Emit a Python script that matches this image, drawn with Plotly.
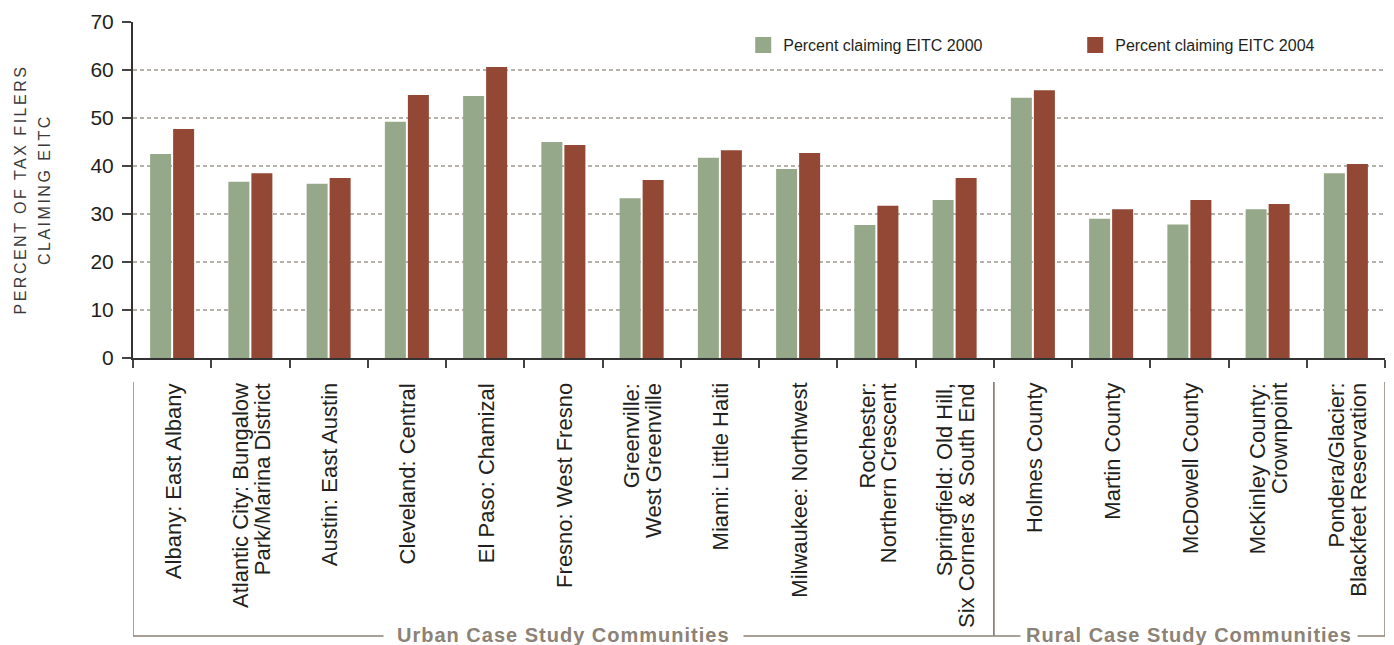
import plotly.graph_objects as go

# Communities (line breaks mark how each axis label wraps)
communities = [
    "Albany: East Albany",
    "Atlantic City: Bungalow<br>Park/Marina District",
    "Austin: East Austin",
    "Cleveland: Central",
    "El Paso: Chamizal",
    "Fresno: West Fresno",
    "Greenville:<br>West Greenville",
    "Miami: Little Haiti",
    "Milwaukee: Northwest",
    "Rochester:<br>Northern Crescent",
    "Springfield: Old Hill,<br>Six Corners & South End",
    "Holmes County",
    "Martin County",
    "McDowell County",
    "McKinley County:<br>Crownpoint",
    "Pondera/Glacier:<br>Blackfeet Reservation",
]

# Percent of tax filers claiming the EITC
pct_2000 = [42.5, 36.7, 36.3, 49.2, 54.6, 45.0, 33.3, 41.7, 39.4, 27.7, 32.9, 54.2, 29.0, 27.8, 31.0, 38.5]
pct_2004 = [47.7, 38.5, 37.5, 54.8, 60.6, 44.4, 37.1, 43.3, 42.7, 31.7, 37.5, 55.8, 31.0, 32.9, 32.1, 40.4]

series_names = ["Percent claiming EITC 2000", "Percent claiming EITC 2004"]
series_colors = ["#96a88a", "#924834"]

# Community groups and how many communities each one spans
group_names = ["Urban Case Study Communities", "Rural Case Study Communities"]
group_sizes = [11, 5]

y_ticks = [0, 10, 20, 30, 40, 50, 60, 70]
grid_values = [10, 20, 30, 40, 50, 60]

FONT = "Liberation Sans, Arial, Helvetica, sans-serif"
PLOT_H = 336  # plot area height in px (used for paper offsets below the axis)

fig = go.Figure()
for name, vals, col in zip(series_names, [pct_2000, pct_2004], series_colors):
    # bars carry the data; a marker-only twin supplies a larger square legend key
    fig.add_trace(go.Bar(x=communities, y=vals, name=name, legendgroup=name, showlegend=False,
                         marker=dict(color=col, line=dict(width=0))))
    fig.add_trace(go.Scatter(x=[None], y=[None], mode="markers", name=name, legendgroup=name,
                             marker=dict(symbol="square", size=17, color=col, line=dict(width=0))))

shapes = []
# dashed horizontal grid
for g in grid_values:
    shapes.append(dict(type="line", xref="paper", yref="y", x0=0, x1=1, y0=g, y1=g,
                       line=dict(color="#9e988f", width=1.5, dash="4px,3px"), layer="below"))

annotations = []

# group brackets under the category labels
BR_COLOR = "#8c8275"
top_px, bottom_px = 24, 278
y_top = -top_px / PLOT_H
y_bot = -bottom_px / PLOT_H
start = 0
pads = [13, 5]
for gname, size, pad in zip(group_names, group_sizes, pads):
    x0, x1 = start - 0.5, start + size - 0.5
    for xv in (x0, x1):
        shapes.append(dict(type="line", xref="x", yref="paper", x0=xv, x1=xv, y0=y_top, y1=y_bot,
                           line=dict(color=BR_COLOR, width=1.5)))
    shapes.append(dict(type="line", xref="x", yref="paper", x0=x0, x1=x1, y0=y_bot, y1=y_bot,
                       line=dict(color=BR_COLOR, width=1.5)))
    annotations.append(dict(x=(x0 + x1) / 2, y=y_bot, xref="x", yref="paper",
                            text=f"<span style='letter-spacing:1px'>{gname}</span>",
                            showarrow=False, xanchor="center", yanchor="middle", bgcolor="white",
                            borderpad=pad, yshift=1,
                            font=dict(family=FONT, size=20, color=BR_COLOR, weight="bold")))
    start += size

# rotated category labels, each line placed separately to keep tight leading
LINE_STEP = 21.7
for i, label in enumerate(communities):
    lines = label.split("<br>")
    n = len(lines)
    for j, ln in enumerate(lines):
        offset = (j - (n - 1) / 2) * LINE_STEP
        annotations.append(dict(x=i, y=0, xref="x", yref="paper", text=ln, textangle=-90,
                                showarrow=False, xanchor="center", yanchor="top",
                                xshift=offset + 1, yshift=-24, borderpad=0,
                                font=dict(family=FONT, size=22, color="#231f20")))

# y-axis title (two tracked uppercase lines)
for txt, xs in [("PERCENT OF TAX FILERS", -113.5), ("CLAIMING EITC", -89)]:
    annotations.append(dict(x=0, y=0.5, xref="paper", yref="paper",
                            text=f"<span style='letter-spacing:2.5px'>{txt}</span>",
                            textangle=-90, showarrow=False, xanchor="center", yanchor="middle",
                            xshift=xs, font=dict(family=FONT, size=16, color="#3a3a3a")))

fig.update_layout(
    width=1394, height=645,
    margin=dict(l=133, r=9, t=22, b=287, autoexpand=False),
    paper_bgcolor="white", plot_bgcolor="white",
    barmode="group", bargap=0.412, bargroupgap=0.087,
    font=dict(family=FONT, color="#231f20"),
    showlegend=True,
    legend=dict(orientation="h", x=0.4874, xanchor="left", y=0.9315, yanchor="middle",
                font=dict(family=FONT, size=16, color="#231f20"),
                entrywidth=287, entrywidthmode="pixels", bgcolor="rgba(0,0,0,0)",
                traceorder="normal", itemclick=False, itemdoubleclick=False),
    xaxis=dict(type="category", range=[-0.5, len(communities) - 0.5], showticklabels=False,
               ticks="outside", tickson="boundaries", ticklen=8, tickwidth=1.5, tickcolor="#444",
               showline=True, linecolor="#333", linewidth=2, showgrid=False, zeroline=False,
               fixedrange=True),
    yaxis=dict(range=[0, 70], tickvals=y_ticks, ticks="outside", ticklen=9, tickwidth=1.5,
               tickcolor="#444", showline=True, linecolor="#333", linewidth=2, showgrid=False,
               zeroline=False, ticklabelstandoff=4,
               tickfont=dict(family=FONT, size=21, color="#231f20")),
    shapes=shapes,
    annotations=annotations,
)

fig.write_html("out.html")
